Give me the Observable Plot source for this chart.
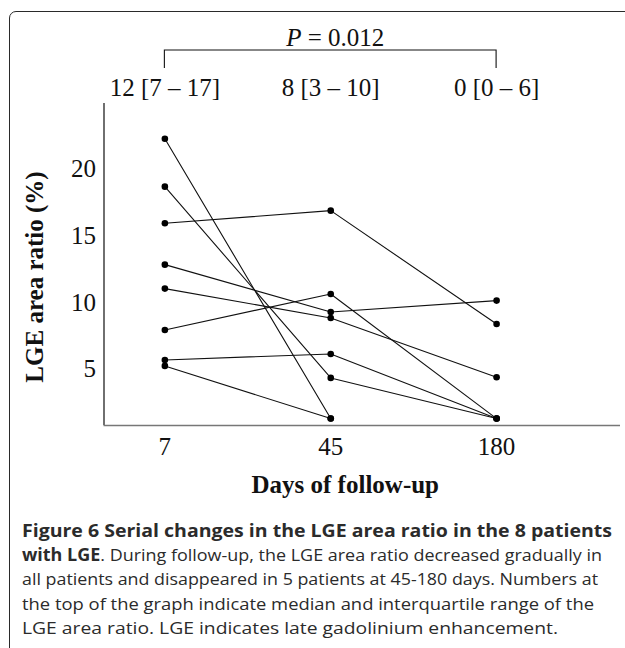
<!DOCTYPE html>
<html>
<head>
<meta charset="utf-8">
<script src="https://cdn.jsdelivr.net/npm/d3@7"></script>
<script src="https://cdn.jsdelivr.net/npm/@observablehq/plot@0.6"></script>
<style>
  html, body { margin: 0; padding: 0; background: #fff; overflow: hidden; }
  #wrap { position: relative; width: 625px; height: 648px; overflow: hidden; }
  #frame { position: absolute; left: 9px; top: 11px; width: 800px; height: 800px;
           border: 1.3px solid #2a2a2a; border-radius: 7px; box-sizing: border-box; }
  #chart { position: absolute; left: 0; top: 0; }
  #caption { position: absolute; left: 0; top: 505px; }
</style>
</head>
<body>
<div id="wrap"><div id="frame"></div><div id="chart"></div><div id="caption"></div></div>
<script>
// ---- data ----
const dayLabels = ["7", "45", "180"];
const dayIndex = [0, 1, 2];
const medianLabels = ["12 [7 \u2013 17]", "8 [3 \u2013 10]", "0 [0 \u2013 6]"];
const pValueText = "0.012";
const yTicks = [5, 10, 15, 20];
const xTitle = "Days of follow-up";
const yTitle = "LGE area ratio (%)";

const patient1 = [22.3, 1.3, null];
const patient2 = [18.7, 4.35, 1.3];
const patient3 = [15.95, 16.9, 8.4];
const patient4 = [12.85, 9.3, 10.15];
const patient5 = [11.05, 8.85, 4.4];
const patient6 = [7.95, 10.65, 1.3];
const patient7 = [5.7, 6.15, 1.3];
const patient8 = [5.25, 1.3, null];

const patients = [patient1, patient2, patient3, patient4, patient5, patient6, patient7, patient8];
const rows = [];
patients.forEach((vals, p) => vals.forEach((v, i) => {
  if (v != null) rows.push({patient: "P" + (p + 1), day: dayIndex[i], value: v});
}));

const serif = "'Liberation Serif', 'Times New Roman', serif";
const W = 625, H = 505;

const decor = (index, scales, values, dims) => {
  const g = d3.create("svg:g");
  const x0 = scales.x(dayIndex[0]), x2 = scales.x(dayIndex[2]);
  g.append("path")
    .attr("d", `M${x0},68V50H${x2}V68`)
    .attr("fill", "none").attr("stroke", "#111").attr("stroke-width", 1.1);
  const t = g.append("text")
    .attr("x", (x0 + x2) / 2 + 5).attr("y", 46)
    .attr("text-anchor", "middle")
    .attr("font-family", serif).attr("font-size", 25).attr("fill", "#111");
  t.append("tspan").attr("font-style", "italic").text("P");
  t.append("tspan").text(" = " + pValueText);
  const cy = (dims.marginTop + dims.height - dims.marginBottom) / 2 + 13;
  g.append("text")
    .attr("transform", `translate(${dims.marginLeft - 61},${cy}) rotate(-90)`)
    .attr("text-anchor", "middle")
    .attr("font-family", serif).attr("font-size", 25).attr("font-weight", "bold").attr("fill", "#111")
    .text(yTitle);
  return g.node();
};

const chart = Plot.plot({
  width: W,
  height: H,
  marginLeft: 103.5,
  marginRight: 5,
  marginTop: 103,
  marginBottom: H - 425,
  style: {fontFamily: serif, fontSize: "25px", color: "#111", background: "transparent"},
  x: {type: "linear", domain: [-0.367, 2.747]},
  y: {domain: [0.78, 24.94]},
  marks: [
    Plot.axisX(dayIndex, {tickSize: 0, tickPadding: 12, tickFormat: (d) => dayLabels[d], fontSize: 25, label: null}),
    Plot.axisY(yTicks, {tickSize: 0, tickPadding: 8, fontSize: 25, label: null}),
    Plot.ruleX([-0.367], {stroke: "#333", strokeWidth: 1.4}),
    Plot.ruleY([0.78], {stroke: "#777", strokeWidth: 1.6}),
    Plot.line(rows, {x: "day", y: "value", z: "patient", stroke: "#111", strokeWidth: 1.1}),
    Plot.dot(rows, {x: "day", y: "value", r: 3.3, fill: "#000", stroke: null}),
    Plot.text(dayIndex, {x: (d) => d, text: (d) => medianLabels[d], frameAnchor: "top", lineAnchor: "middle", dy: -16, fontSize: 25, fill: "#111"}),
    Plot.text([xTitle], {frameAnchor: "bottom", dx: -17, dy: 67, fontSize: 25, fontWeight: "bold", fill: "#111"}),
    decor
  ]
});
document.getElementById("chart").appendChild(chart);

// ---- caption ----
const capFont = "'Open Sans', 'Noto Sans', sans-serif";
const capLines = [
  {parts: [["Figure 6 Serial changes in the LGE area ratio in the 8 patients", true]], end: 612},
  {parts: [["with LGE", true], [". During follow-up, the LGE area ratio decreased gradually in", false]], end: 602},
  {parts: [["all patients and disappeared in 5 patients at 45-180 days. Numbers at", false]], end: 598},
  {parts: [["the top of the graph indicate median and interquartile range of the", false]], end: 594},
  {parts: [["LGE area ratio. LGE indicates late gadolinium enhancement.", false]], end: 558}
];
const capTop = 505;
const cap = d3.select("#caption").append("svg").attr("width", 625).attr("height", 648 - capTop);
capLines.forEach((ln, i) => {
  const t = cap.append("text")
    .attr("x", 22).attr("y", 537 - capTop + i * 24.2)
    .attr("font-family", capFont).attr("font-size", 17).attr("fill", "#2b2b2b")
    .attr("textLength", ln.end - 22).attr("lengthAdjust", "spacingAndGlyphs");
  ln.parts.forEach(([s, b]) => t.append("tspan").attr("font-weight", b ? "bold" : "normal").text(s));
});
</script>
</body>
</html>
